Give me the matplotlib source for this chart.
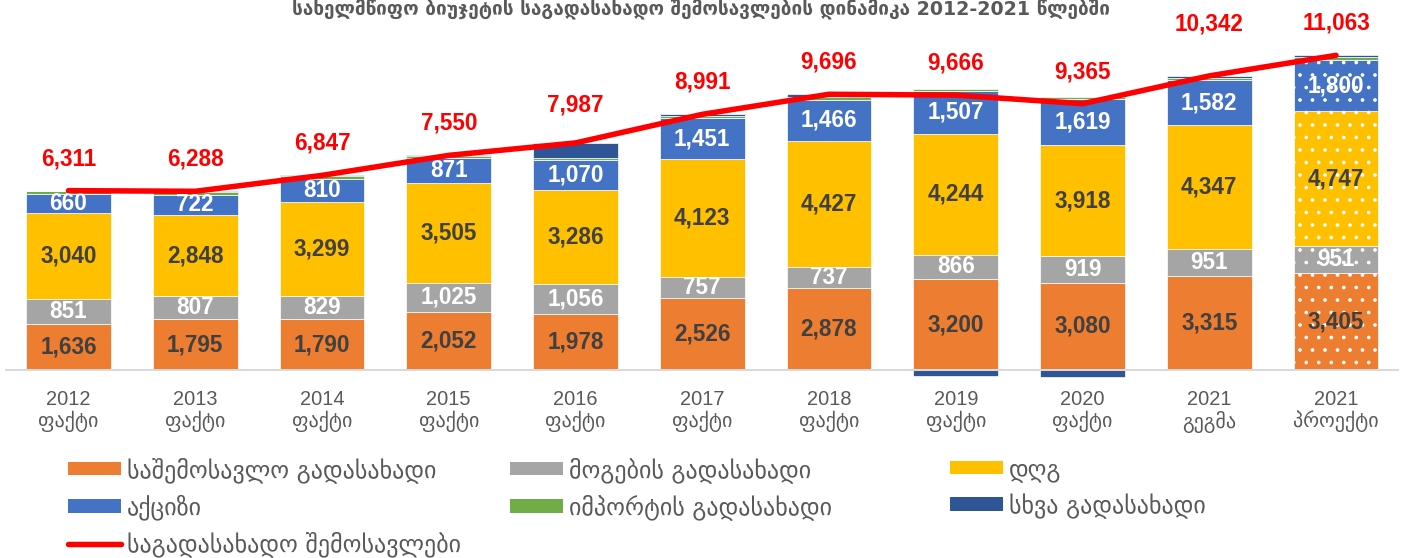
import numpy as np
import matplotlib.pyplot as plt
from matplotlib.patches import Patch
from matplotlib.lines import Line2D

DPI = 75
W, H = 1402, 558
P = 72 / DPI  # pixel -> point

years = ['2012', '2013', '2014', '2015', '2016', '2017', '2018', '2019', '2020', '2021', '2021']
kinds = ['ფაქტი'] * 9 + ['გეგმა', 'პროექტი']

income_tax = [1636, 1795, 1790, 2052, 1978, 2526, 2878, 3200, 3080, 3315, 3405]
profit_tax = [851, 807, 829, 1025, 1056, 757, 737, 866, 919, 951, 951]
vat = [3040, 2848, 3299, 3505, 3286, 4123, 4427, 4244, 3918, 4347, 4747]
excise = [660, 722, 810, 871, 1070, 1451, 1466, 1507, 1619, 1582, 1800]
import_tax = [100, 90, 95, 80, 80, 90, 90, 60, 50, 80, 85]
other_tax = [24, 26, 24, 17, 517, 44, 98, -211, -221, 67, 75]
total = [6311, 6288, 6847, 7550, 7987, 8991, 9696, 9666, 9365, 10342, 11063]

names = ['საშემოსავლო გადასახადი', 'მოგების გადასახადი', 'დღგ',
         'აქციზი', 'იმპორტის გადასახადი', 'სხვა გადასახადი']
line_name = 'საგადასახადო შემოსავლები'
title = 'სახელმწიფო ბიუჯეტის საგადასახადო შემოსავლების დინამიკა 2012-2021 წლებში'

colors = ['#ED7D31', '#A5A5A5', '#FFC000', '#4472C4', '#70AD47', '#2F5597']
label_colors = ['#404040', 'white', '#404040', 'white', None, None]

plt.rcParams['hatch.linewidth'] = 1.1
num_font = ['Liberation Sans', 'DejaVu Sans']

fig = plt.figure(figsize=(W / DPI, H / DPI), dpi=DPI)
# zero line at y=370 px, 0.02847 px per unit
k = 0.02847
y0 = 370.3
ymin, ymax = -340, 12500
bot_px = y0 + (-ymin) * k
top_px = y0 - ymax * k
ax = fig.add_axes([5.1 / W, 1 - bot_px / H, 1394.3 / W, (bot_px - top_px) / H])

x = np.arange(len(years))
series = [income_tax, profit_tax, vat, excise, import_tax, other_tax]
pos_bot = np.zeros(len(x))
neg_bot = np.zeros(len(x))
for s, c, lc in zip(series, colors, label_colors):
    v = np.array(s, dtype=float)
    bottom = np.where(v >= 0, pos_bot, neg_bot)
    bars = ax.bar(x, v, 0.67, bottom=bottom, color=c, edgecolor='white',
                  linewidth=0.7 * P, zorder=2)
    bars[-1].set_hatch('.')
    if lc is not None:
        for i in x:
            ax.text(i, bottom[i] + v[i] / 2, f'{int(v[i]):,}', ha='center', va='center',
                    fontsize=22.5 * P, fontweight='bold', color=lc, family=num_font, zorder=4)
    pos_bot = pos_bot + np.where(v >= 0, v, 0)
    neg_bot = neg_bot + np.where(v < 0, v, 0)

ax.axhline(0, color='#D9D9D9', lw=2 * P, zorder=3)
ax.plot(x, total, color='#FF0000', lw=5.5 * P, solid_capstyle='round', zorder=5)
# extra lift (px) where the labels sit higher in the original
lift = {4: 6, 9: 20}
for i, t in zip(x, total):
    ax.annotate(f'{t:,}', (i, t), xytext=(0, (32 + lift.get(i, 0)) * P),
                textcoords='offset points', ha='center', va='center',
                fontsize=22.5 * P, fontweight='bold', color='#FF0000',
                family=num_font, zorder=6)

ax.set_xlim(-0.5, len(x) - 0.5)
ax.set_ylim(ymin, ymax)
ax.set_yticks([])
ax.set_xticks(x, [f'{y}\n{kd}' for y, kd in zip(years, kinds)])
for lab in ax.get_xticklabels():
    lab.set_family(num_font)
    lab.set_fontsize(20 * P)
    lab.set_color('#595959')
    lab.set_linespacing(1.1)
ax.tick_params(axis='x', length=0, pad=10 * P)
for sp in ax.spines.values():
    sp.set_visible(False)

# legend, three columns placed by hand
f = 24
handles = [Patch(facecolor=c, edgecolor='none') for c in colors]
line_h = Line2D([], [], color='#FF0000', lw=5.5 * P, solid_capstyle='round')
cols = [([handles[0], handles[3], line_h], [names[0], names[3], line_name], 68),
        ([handles[1], handles[4]], [names[1], names[4]], 510),
        ([handles[2], handles[5]], [names[2], names[5]], 950)]
for hs, ls, xl in cols:
    leg = fig.legend(hs, ls, loc='upper left', bbox_to_anchor=(xl / W, 1 - 457 / H),
                     frameon=False, fontsize=f * P, borderpad=0, borderaxespad=0,
                     handlelength=53 / f, handleheight=12 / f, handletextpad=6 / f,
                     labelspacing=0.48)
    for t in leg.get_texts():
        t.set_color('#595959')

fig.text(0.5, 1 - 14 / H, title, ha='center', va='baseline', fontsize=19 * P,
         fontweight='bold', color='#595959')

fig.savefig('out.png', dpi=DPI)
